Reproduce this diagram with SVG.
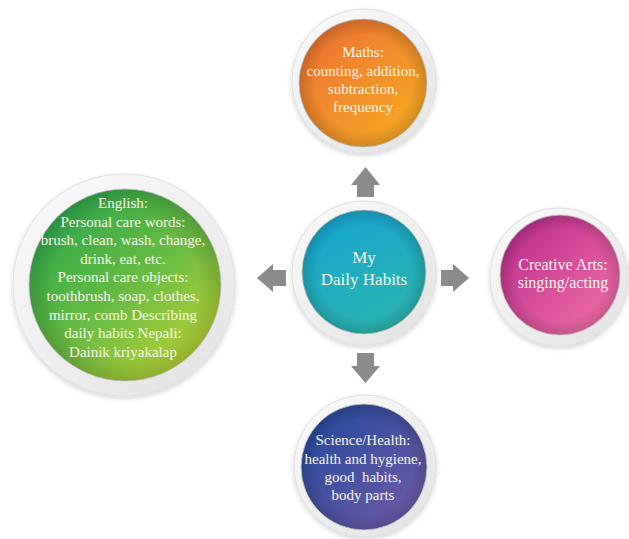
<svg xmlns="http://www.w3.org/2000/svg" width="629" height="539" viewBox="0 0 629 539">
<style>
.ring{fill:url(#ringG);stroke:#dedede;stroke-width:1;filter:url(#sh)}
.core{stroke:#d2d2d2;stroke-width:1}
.t{font-family:"Liberation Serif","Times New Roman",serif;fill:#f8f4ea;text-anchor:middle;font-size:15px}
.arrow{fill:#8b8b8d}
</style>
<defs>
<filter id="sh" x="-20%" y="-20%" width="140%" height="140%">
<feDropShadow dx="0" dy="2" stdDeviation="2.5" flood-color="#000" flood-opacity="0.18"/>
</filter>
<linearGradient id="ringG" x1="0" y1="0" x2="0.8" y2="1">
<stop offset="0" stop-color="#fbfbfb"/>
<stop offset="1" stop-color="#e4e4e4"/>
</linearGradient>
<radialGradient id="vig" cx="0.5" cy="0.5" r="0.5">
<stop offset="0.75" stop-color="#000" stop-opacity="0"/>
<stop offset="1" stop-color="#000" stop-opacity="0.16"/>
</radialGradient>
<linearGradient id="gMaths" x1="0.1" y1="0.1" x2="0.9" y2="0.9">
<stop offset="0" stop-color="#ec7232"/>
<stop offset="1" stop-color="#f7aa22"/>
</linearGradient>
<linearGradient id="gCenter" x1="0.3" y1="0" x2="0.8" y2="1">
<stop offset="0" stop-color="#16a6d0"/>
<stop offset="1" stop-color="#2db6ac"/>
</linearGradient>
<linearGradient id="gEng" x1="0.15" y1="0.1" x2="0.85" y2="0.9">
<stop offset="0" stop-color="#2fa84a"/>
<stop offset="0.55" stop-color="#6bbd42"/>
<stop offset="1" stop-color="#b6d334"/>
</linearGradient>
<linearGradient id="gArts" x1="0.1" y1="0.1" x2="0.9" y2="0.9">
<stop offset="0" stop-color="#bd2d8e"/>
<stop offset="1" stop-color="#f06ea8"/>
</linearGradient>
<linearGradient id="gSci" x1="0.1" y1="0.1" x2="0.9" y2="0.9">
<stop offset="0" stop-color="#254a9c"/>
<stop offset="1" stop-color="#6e5ba7"/>
</linearGradient>
</defs>
<rect width="629" height="539" fill="#ffffff"/>

<g id="connectors">
<polygon class="arrow" points="365.5,167 380,185 374,185 374,197 357,197 357,185 351,185"/>
<polygon class="arrow" points="365.5,383 380,366 374,366 374,353 357,353 357,366 351,366"/>
<polygon class="arrow" points="257,278 273,264 273,270 286,270 286,286 273,286 273,292"/>
<polygon class="arrow" points="469,278 453,264 453,270 441,270 441,286 453,286 453,292"/>
</g>

<g id="node-maths">
<circle class="ring" cx="364" cy="81" r="72"/>
<circle class="core" cx="363" cy="83" r="64" fill="url(#gMaths)"/>
<circle cx="363" cy="83" r="64" fill="url(#vig)"/>
<text class="t" x="363" y="57">Maths:</text>
<text class="t" x="363" y="76">counting, addition,</text>
<text class="t" x="363" y="94">subtraction,</text>
<text class="t" x="363" y="112">frequency</text>
</g>

<g id="node-center">
<circle class="ring" cx="364" cy="273" r="72"/>
<circle class="core" cx="364" cy="272" r="62" fill="url(#gCenter)"/>
<circle cx="364" cy="272" r="62" fill="url(#vig)"/>
<text class="t" x="364" y="263" style="font-size:17px">My</text>
<text class="t" x="364" y="285" style="font-size:17px">Daily Habits</text>
</g>

<g id="node-english">
<circle class="ring" cx="124" cy="285" r="111"/>
<circle class="core" cx="125" cy="285" r="96" fill="url(#gEng)"/>
<circle cx="125" cy="285" r="96" fill="url(#vig)"/>
<text class="t" x="123" y="208">English:</text>
<text class="t" x="123" y="226.6">Personal care words:</text>
<text class="t" x="123" y="245.2">brush, clean, wash, change,</text>
<text class="t" x="123" y="263.8">drink, eat, etc.</text>
<text class="t" x="123" y="282.4">Personal care objects:</text>
<text class="t" x="123" y="301">toothbrush, soap, clothes,</text>
<text class="t" x="123" y="319.6">mirror, comb Describing</text>
<text class="t" x="123" y="338.2">daily habits Nepali:</text>
<text class="t" x="123" y="356.8">Dainik kriyakalap</text>
</g>

<g id="node-arts">
<circle class="ring" cx="559" cy="277" r="69"/>
<circle class="core" cx="560" cy="275" r="60" fill="url(#gArts)"/>
<circle cx="560" cy="275" r="60" fill="url(#vig)"/>
<text class="t" x="563" y="270" style="font-size:16px">Creative Arts:</text>
<text class="t" x="563" y="288" style="font-size:16px">singing/acting</text>
</g>

<g id="node-science">
<circle class="ring" cx="365" cy="466" r="71"/>
<circle class="core" cx="364" cy="467" r="63" fill="url(#gSci)"/>
<circle cx="364" cy="467" r="63" fill="url(#vig)"/>
<text class="t" x="363" y="445">Science/Health:</text>
<text class="t" x="363" y="463.5">health and hygiene,</text>
<text class="t" x="363" y="482" style="white-space:pre">good  habits,</text>
<text class="t" x="363" y="500">body parts</text>
</g>
</svg>
